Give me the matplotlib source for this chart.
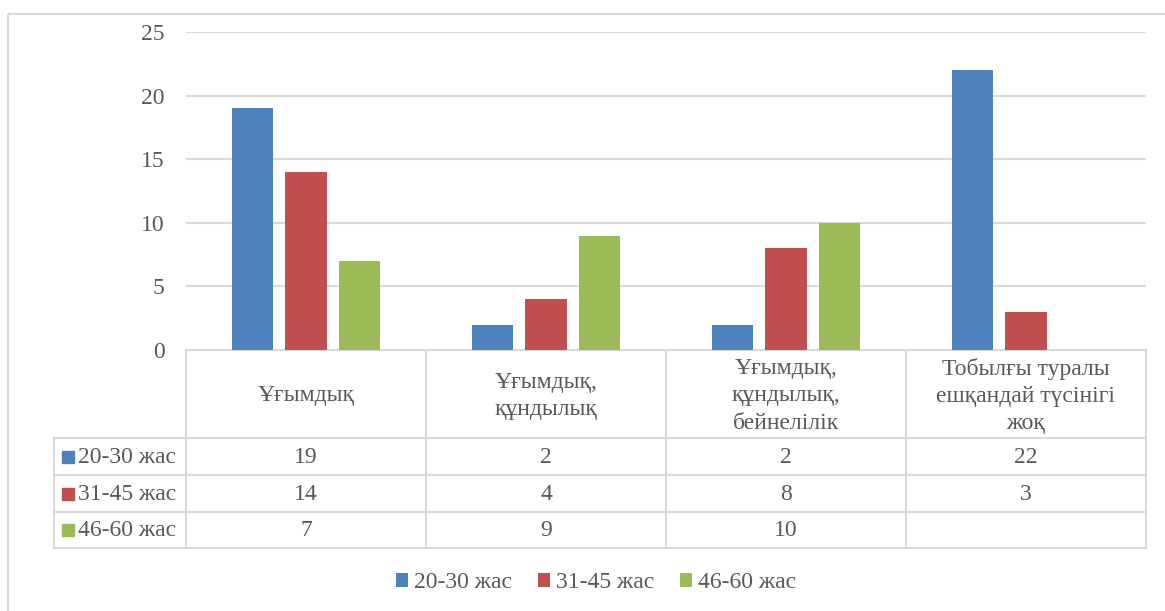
import numpy as np
import matplotlib.pyplot as plt
from matplotlib.lines import Line2D
from matplotlib.patches import Rectangle

# data
categories = ['Ұғымдық', 'Ұғымдық,\nқұндылық', 'Ұғымдық,\nқұндылық,\nбейнелілік',
              'Тобылғы туралы\nешқандай түсінігі\nжоқ']
series = ['20-30 жас', '31-45 жас', '46-60 жас']
age_20_30 = [19, 2, 2, 22]
age_31_45 = [14, 4, 8, 3]
age_46_60 = [7, 9, 10, None]
colors = ['#4F81BD', '#C0504D', '#9BBB59']

plt.rcParams['font.family'] = ['Liberation Serif', 'DejaVu Serif']
TXT = '#595959'
LINE = '#D9D9D9'
FS = 17

W, H = 1165, 611
fig = plt.figure(figsize=(W / 100, H / 100), dpi=100)

# pixel geometry of the plot area / table
x0, x1 = 186, 1146
y_top, y_zero = 32, 350
rows_y = [350, 438, 475, 512, 548]
lab_x = 54

ax = fig.add_axes([x0 / W, 1 - y_zero / H, (x1 - x0) / W, (y_zero - y_top) / H])
values = [age_20_30, age_31_45, age_46_60]
x = np.arange(len(categories))
width, step = 0.171, 0.222
handles = []
for i, (vals, c) in enumerate(zip(values, colors)):
    v = [np.nan if a is None else a for a in vals]
    b = ax.bar(x + (i - 1) * step, v, width, color=c, zorder=3, label=series[i])
    handles.append(b)

ax.set_xlim(-0.5, len(categories) - 0.5)
ax.set_ylim(0, 25)
ax.set_yticks(range(0, 26, 5))
ax.grid(axis='y', color=LINE, lw=1.5, zorder=0)
ax.set_xticks([])
for s in ax.spines.values():
    s.set_visible(False)
ax.tick_params(axis='y', length=0, pad=15.5, labelsize=FS, labelcolor=TXT)

# overlay in pixel coordinates for the data table
ov = fig.add_axes([0, 0, 1, 1])
ov.set_xlim(0, W)
ov.set_ylim(H, 0)
ov.axis('off')
ov.set_zorder(-1)

# outer chart border
ov.add_patch(Rectangle((8, 14), W, H, fill=False, ec=LINE, lw=1.5))

colw = (x1 - x0) / len(categories)
kw = dict(color=LINE, lw=1.5)
ov.add_line(Line2D([x0, x1], [rows_y[0]] * 2, **kw))
for y in rows_y[1:]:
    ov.add_line(Line2D([lab_x, x1], [y, y], **kw))
ov.add_line(Line2D([lab_x, lab_x], [rows_y[1], rows_y[-1]], **kw))
for j in range(len(categories) + 1):
    xx = x0 + j * colw
    ov.add_line(Line2D([xx, xx], [rows_y[0], rows_y[-1]], **kw))

for j, cat in enumerate(categories):
    cx = x0 + (j + 0.5) * colw
    ov.text(cx, (rows_y[0] + rows_y[1]) / 2 + 2, cat, ha='center', va='center',
            fontsize=FS, color=TXT, linespacing=1.38)
    for i, vals in enumerate(values):
        if vals[j] is not None:
            cy = (rows_y[i + 1] + rows_y[i + 2]) / 2
            ov.text(cx, cy + 1, str(vals[j]), ha='center', va='center',
                    fontsize=FS, color=TXT)

for i, name in enumerate(series):
    cy = (rows_y[i + 1] + rows_y[i + 2]) / 2
    ov.add_patch(Rectangle((62, cy - 6), 12, 12, color=colors[i]))
    ov.text(78, cy + 1, name, ha='left', va='center', fontsize=FS, color=TXT)

fig.legend(handles=handles, loc='center', bbox_to_anchor=(596 / W, 1 - 583 / H),
           ncol=3, frameon=False, fontsize=FS, labelcolor=TXT,
           handlelength=0.5, handleheight=0.5, handletextpad=0.25, columnspacing=1.1)

fig.savefig('out.png', dpi=100)
